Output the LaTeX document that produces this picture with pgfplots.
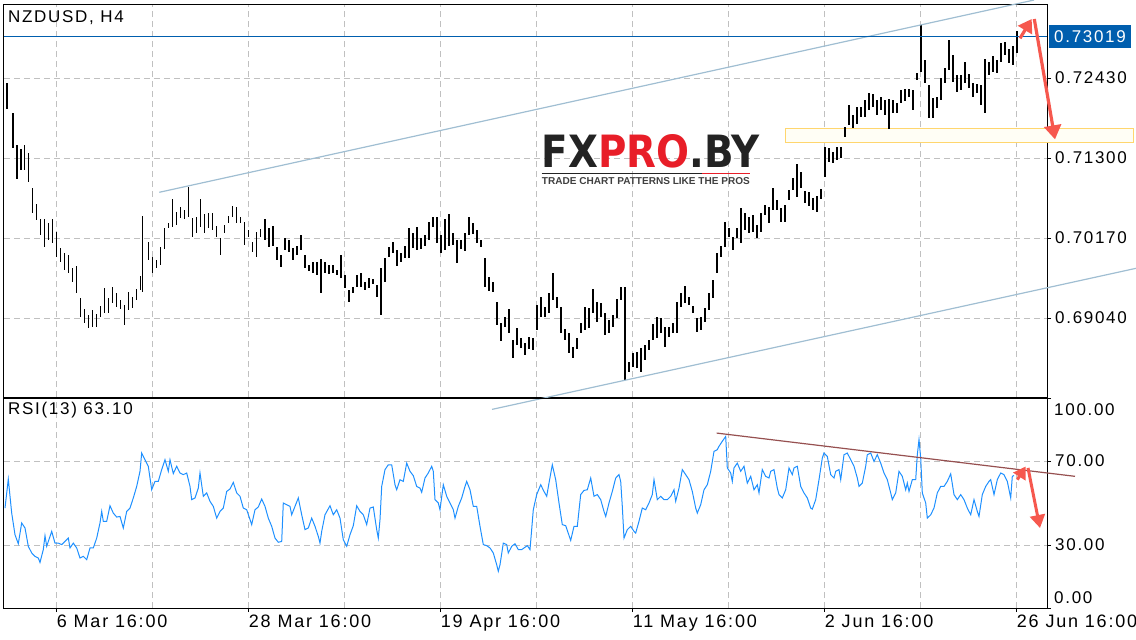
\documentclass[border=0pt]{standalone}
\usepackage{pgfplots}
\pgfplotsset{compat=1.18}
\usepackage{pgfplotstable}
\usepackage{graphicx}
\usepackage{fontspec}
\setmainfont{Liberation Sans}
\newfontfamily\mt{Liberation Sans}[LetterSpace=10]
\newfontfamily\logofont{DejaVu Sans}
\usetikzlibrary{arrows.meta}

\definecolor{gridc}{RGB}{192,192,192}
\definecolor{chan}{RGB}{160,190,210}
\definecolor{pblue}{RGB}{0,94,174}
\definecolor{rsic}{RGB}{30,144,255}
\definecolor{trendc}{RGB}{150,80,80}
\definecolor{arr}{RGB}{246,88,78}
\definecolor{zoneb}{RGB}{255,214,110}
\definecolor{logored}{RGB}{232,30,40}
\definecolor{logodark}{RGB}{35,35,35}

\pgfplotstableread{
x lo hi
7.3 0.72000 0.72355
12.7 0.71437 0.71932
16.7 0.71000 0.71484
20.7 0.71131 0.71423
24.3 0.71131 0.71484
28.3 0.70967 0.71367
32.3 0.70519 0.70872
36.3 0.70425 0.70651
40.3 0.70213 0.70435
44.3 0.70049 0.70435
48.3 0.70143 0.70378
52.3 0.70096 0.70435
56.3 0.69907 0.70260
60.3 0.69837 0.70025
64.3 0.69719 0.69954
68.3 0.69672 0.69931
72.3 0.69554 0.69742
76.3 0.69389 0.69775
80.3 0.69060 0.69319
84.3 0.68966 0.69163
88.3 0.68895 0.69083
92.3 0.68919 0.69154
96.3 0.68919 0.69098
100.3 0.69060 0.69211
104.3 0.69107 0.69460
108.3 0.69107 0.69319
112.3 0.69248 0.69474
116.3 0.69201 0.69389
120.3 0.69163 0.69295
124.3 0.68942 0.69225
128.3 0.69154 0.69404
132.3 0.69178 0.69333
136.3 0.69295 0.69446
140.3 0.69436 0.69634
142.3 0.69413 0.70482
148.3 0.69860 0.70119
152.3 0.69681 0.69898
156.3 0.69742 0.69860
160.3 0.69790 0.70049
164.3 0.70011 0.70307
168.3 0.70307 0.70388
172.3 0.70331 0.70717
176.3 0.70355 0.70543
180.3 0.70449 0.70613
184.3 0.70435 0.70566
188.3 0.70472 0.70896
192.3 0.70190 0.70449
196.3 0.70237 0.70472
200.3 0.70331 0.70717
204.3 0.70237 0.70510
208.3 0.70307 0.70529
212.3 0.70284 0.70529
216.3 0.70190 0.70340
220.3 0.69931 0.70166
224.3 0.70237 0.70355
228.3 0.70378 0.70482
232.3 0.70472 0.70623
236.3 0.70378 0.70613
240.3 0.70378 0.70472
244.3 0.70072 0.70402
248.3 0.70190 0.70284
252.3 0.69978 0.70119
256.3 0.69907 0.70260
260.3 0.70190 0.70293
264.7 0.70142 0.70434
268.7 0.70039 0.70307
272.7 0.70057 0.70340
276.7 0.69860 0.70039
280.7 0.69765 0.69930
284.7 0.70001 0.70166
288.7 0.69977 0.70142
292.7 0.69860 0.70024
296.7 0.69930 0.70057
300.7 0.70001 0.70213
304.7 0.69742 0.69930
308.7 0.69709 0.69789
312.7 0.69681 0.69836
316.7 0.69648 0.69836
320.7 0.69389 0.69869
324.7 0.69671 0.69836
328.7 0.69657 0.69789
332.7 0.69671 0.69789
336.7 0.69648 0.69718
340.7 0.69601 0.69930
344.7 0.69459 0.69648
348.7 0.69271 0.69436
352.7 0.69398 0.69483
356.7 0.69483 0.69648
360.7 0.69483 0.69671
364.7 0.69436 0.69554
368.7 0.69459 0.69601
372.7 0.69521 0.69591
376.7 0.69342 0.69506
380.7 0.69083 0.69742
384.7 0.69554 0.69883
388.7 0.69907 0.70048
392.7 0.69954 0.70119
396.7 0.69775 0.70001
400.7 0.69836 0.69963
404.7 0.69883 0.70057
408.7 0.69883 0.70307
412.7 0.70024 0.70236
416.7 0.70001 0.70330
420.7 0.70010 0.70166
424.7 0.70057 0.70213
428.7 0.70142 0.70401
432.7 0.70330 0.70472
436.7 0.70095 0.70472
440.7 0.69963 0.70213
444.7 0.70001 0.70434
448.7 0.70057 0.70509
452.7 0.70071 0.70246
456.7 0.69822 0.70142
460.7 0.70010 0.70142
464.7 0.69991 0.70236
468.7 0.70213 0.70462
472.7 0.70227 0.70378
476.7 0.70104 0.70283
480.7 0.70048 0.70142
484.7 0.69483 0.69883
488.7 0.69426 0.69624
492.7 0.69412 0.69554
496.7 0.68942 0.69271
500.7 0.68720 0.68965
504.7 0.68918 0.69050
508.7 0.68824 0.69163
512.7 0.68471 0.68730
516.7 0.68659 0.68894
520.7 0.68612 0.68753
524.7 0.68518 0.68683
528.7 0.68598 0.68767
532.7 0.68588 0.68753
536.7 0.68871 0.69224
540.7 0.69059 0.69342
544.7 0.69050 0.69201
548.7 0.69106 0.69398
552.7 0.69294 0.69681
556.7 0.69177 0.69342
560.7 0.68824 0.69201
564.7 0.68730 0.68880
568.7 0.68541 0.68824
572.7 0.68471 0.68636
576.7 0.68598 0.68753
580.7 0.68824 0.68965
584.7 0.68871 0.69201
588.7 0.68894 0.69177
592.7 0.69106 0.69445
596.7 0.68989 0.69271
600.7 0.69059 0.69257
604.7 0.68801 0.69106
608.7 0.68824 0.69012
612.7 0.68918 0.69083
616.7 0.69036 0.69304
620.7 0.69294 0.69483
624.7 0.68165 0.69483
628.7 0.68283 0.68424
632.7 0.68353 0.68541
636.7 0.68329 0.68565
640.7 0.68283 0.68612
644.7 0.68448 0.68659
648.7 0.68588 0.68730
652.7 0.68730 0.68956
656.7 0.68753 0.69059
660.7 0.68824 0.69036
664.7 0.68626 0.68918
668.7 0.68777 0.68908
672.7 0.68824 0.68965
676.7 0.68824 0.69271
680.7 0.69201 0.69398
684.7 0.69248 0.69492
688.7 0.69224 0.69342
692.7 0.69106 0.69210
696.7 0.68847 0.69036
700.7 0.68871 0.69059
704.7 0.68989 0.69177
708.7 0.69153 0.69389
712.7 0.69318 0.69577
716.7 0.69681 0.69963
720.7 0.69907 0.70057
724.7 0.70048 0.70401
728.7 0.70189 0.70307
732.7 0.70001 0.70189
736.7 0.70166 0.70307
740.7 0.70095 0.70589
744.7 0.70283 0.70519
748.7 0.70236 0.70462
752.7 0.70260 0.70495
756.7 0.70166 0.70354
760.7 0.70260 0.70519
764.7 0.70495 0.70637
768.7 0.70378 0.70613
772.7 0.70566 0.70872
776.7 0.70566 0.70707
780.7 0.70401 0.70589
784.7 0.70401 0.70637
788.7 0.70707 0.70848
792.7 0.70848 0.71013
796.7 0.70754 0.71216
800.7 0.70872 0.71107
804.7 0.70660 0.70839
808.7 0.70623 0.70825
812.7 0.70566 0.70731
816.7 0.70542 0.70764
820.7 0.70717 0.70858
824.7 0.71027 0.71460
828.7 0.71249 0.71437
832.7 0.71225 0.71390
836.7 0.71272 0.71460
840.7 0.71296 0.71460
844.7 0.71602 0.71743
848.7 0.71767 0.72049
852.7 0.71719 0.71908
856.7 0.71781 0.72025
860.7 0.71884 0.72025
864.7 0.71884 0.72120
868.7 0.71978 0.72214
872.7 0.72025 0.72204
876.7 0.71908 0.72120
880.7 0.71978 0.72167
884.7 0.71908 0.72120
888.7 0.71705 0.72129
892.7 0.71931 0.72120
896.7 0.71931 0.72072
900.7 0.72072 0.72261
904.7 0.72110 0.72270
908.7 0.72167 0.72270
912.7 0.71978 0.72261
916.7 0.72402 0.72496
920.7 0.72520 0.73179
924.7 0.72355 0.72685
928.7 0.71861 0.72331
932.7 0.71861 0.72143
936.7 0.72002 0.72167
940.7 0.72120 0.72426
944.7 0.72355 0.72567
948.7 0.72543 0.72976
952.7 0.72379 0.72755
956.7 0.72237 0.72473
960.7 0.72261 0.72473
964.7 0.72355 0.72661
968.7 0.72284 0.72487
972.7 0.72167 0.72355
976.7 0.72214 0.72346
980.7 0.72049 0.72331
984.7 0.71941 0.72694
988.7 0.72473 0.72661
992.7 0.72520 0.72741
996.7 0.72506 0.72685
1000.7 0.72661 0.72920
1004.7 0.72755 0.72943
1008.7 0.72637 0.72835
1012.7 0.72614 0.72882
1016.7 0.72779 0.73099
}\bars

\pgfplotstableread{
x r
5 47.6
8.3 61.4
11.7 45.2
15 34.9
18.3 30.6
21.7 40.5
25 38.1
28.3 29.4
31.7 26.2
35 24.6
38.3 23.8
40 21.7
43.3 27.8
45 34.4
46.7 29.4
51.7 36.5
55 30.9
58.3 30.9
61.7 30.2
65 31.7
68.3 33.3
70 28.6
73.3 30.9
76.7 28.6
80 23.8
83.3 24.6
86.7 23.0
90 28.6
93.3 28.6
96.7 33.3
100 40.5
101.7 46.0
103.3 41.3
106.7 41.3
110 48.7
113.3 45.2
116.7 43.3
120 43.6
123.3 38.1
126.7 46.0
130 47.6
133.3 52.4
136.7 57.9
140 65.1
141.7 73.8
145 70.6
148.3 67.5
151.7 56.3
155 60.3
158.3 60.3
161.7 65.9
165 70.6
168.3 65.1
170 70.6
173.3 64.0
176.7 67.5
180 64.3
183.3 63.5
186.7 64.3
190 57.9
191.7 51.6
195 52.4
198.3 57.1
200 64.3
203.3 53.2
206.7 54.8
210 50.8
213.3 48.4
216.7 42.8
220 46.0
223.3 47.6
226.7 55.5
230 56.7
233.3 59.8
236.7 54.8
240 53.2
243.3 47.6
246.7 46.8
251.7 39.7
255 46.8
258.3 48.1
261.7 51.9
265 48.4
268.3 42.8
271.7 38.9
275 33.3
278.3 31.3
281.7 31.7
283.3 50.0
286.7 49.2
290 48.4
291.7 44.4
295 48.4
298.3 52.4
301.7 44.4
305 37.3
308.3 38.1
311.7 42.8
315 38.9
318.3 34.1
320 30.9
321.7 36.5
325 44.4
330 48.7
333.3 44.4
336.7 46.8
340 42.8
343.3 32.5
346.7 29.4
350 34.9
353.3 39.2
356.7 48.7
360 46.0
363.3 44.4
366.7 39.7
370 47.6
373.3 48.1
376.7 37.3
378.3 33.3
380 42.1
381.7 57.9
385 65.9
388.3 68.2
391.7 68.2
395 58.7
396.7 56.3
400 61.1
403.3 60.3
406.7 69.0
410 65.1
413.3 63.0
416.7 57.9
420 57.1
421.7 55.1
425 61.9
428.3 64.3
431.7 67.5
433.3 65.1
435 51.6
438.3 50.0
440 46.8
443.3 58.7
446.7 53.2
450 50.0
453.3 46.8
455 42.8
458.3 48.4
461.7 52.4
465 57.9
466.7 60.3
470 56.3
473.3 48.4
476.7 48.4
480 38.9
483.3 30.2
486.7 29.7
490 28.6
493.3 26.2
496.7 20.6
498.3 17.5
500 20.6
503.3 30.9
506.7 30.2
508.3 26.2
511.7 29.4
515 30.6
518.3 27.8
521.7 27.8
527.3 29.7
530 27.8
533.3 46.8
536.7 54.0
540.7 58.7
544 55.5
546.7 53.2
549 59.5
552.3 68.2
555.7 61.1
559 50.0
562.3 39.7
565.7 39.2
570.7 32.2
574 38.9
577.3 38.9
580.7 54.0
584 56.0
587.3 56.3
590.7 61.9
594 53.2
597.3 54.0
600.7 51.6
604 46.0
605.7 43.6
609 50.0
612.3 55.5
615.7 61.9
619 63.5
620.7 60.3
622.3 48.4
624 33.3
627.3 37.3
630.7 38.9
634 36.5
635.7 35.7
639 41.3
642.3 47.6
645.7 46.8
649 50.0
652.3 54.0
654 61.1
657.3 51.6
660.7 53.2
664 51.6
667.3 51.6
670.7 53.2
674 56.3
675.7 50.8
679 57.1
682.3 65.9
685.7 63.5
689 61.1
692.3 55.5
695.7 47.6
697.3 45.2
700.7 49.2
704 56.3
707.3 58.7
710.7 65.1
714 74.6
717.3 75.4
719 77.0
722.3 79.4
725.7 81.7
727.3 66.7
730.7 64.3
732.3 60.3
734 66.7
737.3 69.0
740.7 65.1
744 67.5
747.3 59.5
750.7 62.7
754 56.3
757.3 58.7
759 54.8
762.3 65.9
765.7 62.7
769 61.9
770.7 65.1
774 65.9
777.3 57.1
779 54.0
782.3 52.4
785.7 56.3
789 66.7
792.3 63.5
794 66.7
797.3 67.5
800.7 57.9
804 54.8
807.3 52.4
810.7 47.6
812.3 47.1
815.7 51.6
819 61.1
822.3 71.4
824 73.8
827.3 72.2
830.7 63.5
834 61.9
835.7 65.1
839 65.9
840.7 61.1
844 73.0
847.3 73.8
850.7 70.6
854 67.5
857.3 61.9
859 57.9
862.3 59.5
865.7 67.5
867.3 73.0
870.7 73.8
874 69.8
877.3 73.0
880.7 69.0
884 64.3
887.3 61.1
890.7 54.8
892.3 51.6
895.7 54.8
899 65.1
902.3 62.7
905.7 56.3
907.3 59.5
909 55.5
912.3 61.1
915.7 61.1
917.3 73.0
919 80.2
920.7 71.4
922.3 54.8
925.7 50.0
927.3 42.8
930.7 44.4
934 47.6
937.3 54.8
940.7 57.9
944 57.9
947.3 60.3
950.7 63.9
954 54.0
957.3 51.6
960.7 54.0
964 51.6
967.3 47.6
970.7 44.4
974 51.6
977.3 46.0
979 43.6
982.3 54.0
985.7 57.9
989 60.3
990.7 61.1
994 54.0
997.3 61.1
1000.7 64.3
1004 63.5
1007.3 60.3
1010.7 52.4
1012.3 62.7
1014 63.1
}\rsi

\begin{document}
\begin{tikzpicture}
\path[use as bounding box] (0pt,0pt) rectangle (1136pt,-640pt);
\pgfplotsset{
  mtaxis/.style={
    scale only axis, width=1043pt,
    xmin=4, xmax=1047,
    axis line style={black, line width=1pt},
    tick style={black, line width=1pt},
    tick align=outside, major tick length=4pt, minor tick length=0pt,
    ytick pos=right, yticklabel pos=right,
    major grid style={gridc, dash pattern=on 6pt off 4pt, line width=1pt},
    minor grid style={gridc, dash pattern=on 6pt off 4pt, line width=1pt},
    ticklabel style={font=\mt\fontsize{17}{20}\selectfont},
    yticklabel style={anchor=west, inner sep=0pt, xshift=4pt},
    minor xtick={152.7,344.7,536.7,728.7,920.7},
    xmajorgrids, xminorgrids, ymajorgrids,
  }
}
% ---------------- price panel
\begin{axis}[mtaxis, name=top, at={(4pt,-4pt)}, anchor=north west, height=393pt,
  ymin=0.67924, ymax=0.73476,
  xtick={56.7,248.7,440.7,632.7,824.7,1016.7}, xticklabels={}, xtick style={draw=none},
  ytick={0.6904,0.7017,0.7130,0.7243}, yticklabels={0.69040,0.70170,0.71300,0.72430},
  clip=false]
% support zone
\draw[zoneb, line width=1pt, fill=white!96!yellow] (axis cs:785,0.71526) rectangle (axis cs:1133,0.71724);
% watermark
\node[anchor=south west, inner sep=0pt] at (axis cs:541.7,0.71151) {\resizebox{218pt}{33pt}{\logofont\bfseries\color{logodark}FX\color{logored}PRO\color{logodark}.BY}};
\draw[logodark, line width=1.5pt] (axis cs:541.7,0.71085) -- (axis cs:701.7,0.71085);
\draw[logored, line width=1.5pt] (axis cs:701.7,0.71085) -- (axis cs:750,0.71085);
\node[anchor=south west, inner sep=0pt] at (axis cs:541.7,0.70919) {\resizebox{208pt}{7pt}{\bfseries\color{black!75}TRADE CHART PATTERNS LIKE THE PROS}};
% bars
\addplot[draw=none, mark=none, forget plot,
  error bars/.cd, y dir=both, y explicit, error mark=none,
  error bar style={draw=black, solid, line width=1.6pt}]
  table[x=x, y expr={(\thisrow{lo}+\thisrow{hi})/2}, y error expr={(\thisrow{hi}-\thisrow{lo})/2}] {\bars};
% channel
\draw[chan, line width=1.2pt] (axis cs:159.3,0.70816) -- (axis cs:1034,0.73532);
\draw[chan, line width=1.2pt] (axis cs:492,0.67749) -- (axis cs:1136,0.69742);
% last price line
\draw[pblue, line width=1.2pt] (axis cs:4,0.73019) -- (axis cs:1047,0.73019);
\node[fill=pblue, text=white, anchor=west, inner xsep=5pt, inner ysep=0pt, minimum height=23pt, font=\mt\fontsize{17}{20}\selectfont] at (axis cs:1049,0.73019) {0.73019};
% arrows
\draw[arr, line width=3.2pt, -{Triangle[length=13pt,width=16pt]}] (axis cs:1020,0.72991) -- (axis cs:1031.7,0.73264);
\draw[arr, line width=3.2pt, -{Triangle[length=14pt,width=17pt]}] (axis cs:1034.3,0.73264) -- (axis cs:1055,0.71564);
\end{axis}
% ---------------- RSI panel
\begin{axis}[mtaxis, at={(top.south west)}, anchor=north west, yshift=-1pt, height=210pt,
  ymin=0, ymax=100,
  xtick={56.7,248.7,440.7,632.7,824.7,1016.7},
  xticklabels={6 Mar 16:00,28 Mar 16:00,19 Apr 16:00,11 May 16:00,2 Jun 16:00,26 Jun 16:00},
  xtick pos=bottom,
  xticklabel style={anchor=north west, inner sep=0pt, yshift=-3pt, font=\mt\fontsize{18}{21}\selectfont},
  ytick={30,70}, yticklabels={30.00,70.00},
  extra y ticks={0,100}, extra y tick labels={}, extra y tick style={grid=none},
  clip=false]
\addplot[rsic, line width=1pt, mark=none] table[x=x, y=r] {\rsi};
\draw[trendc, line width=1.2pt] (axis cs:716.7,83.3) -- (axis cs:1075,62.7);
\draw[arr, line width=3pt, -{Triangle[length=12pt,width=14pt]}] (axis cs:1017.3,61.1) -- (axis cs:1025.7,67.4);
\draw[arr, line width=3pt, -{Triangle[length=13pt,width=15pt]}] (axis cs:1028,66.7) -- (axis cs:1040,38.1);
\node[anchor=west, inner sep=0pt, font=\mt\fontsize{17}{20}\selectfont] at (axis cs:1054,94.3) {100.00};
\node[anchor=west, inner sep=0pt, font=\mt\fontsize{17}{20}\selectfont] at (axis cs:1054,4.9) {0.00};
\end{axis}
\node[anchor=west, inner sep=0pt, font=\mt\fontsize{17}{20}\selectfont] at (8pt,-18pt) {NZDUSD, H4};
\node[anchor=west, inner sep=0pt, font=\mt\fontsize{17}{20}\selectfont] at (8pt,-410pt) {RSI(13) 63.10};
\end{tikzpicture}
\end{document}
